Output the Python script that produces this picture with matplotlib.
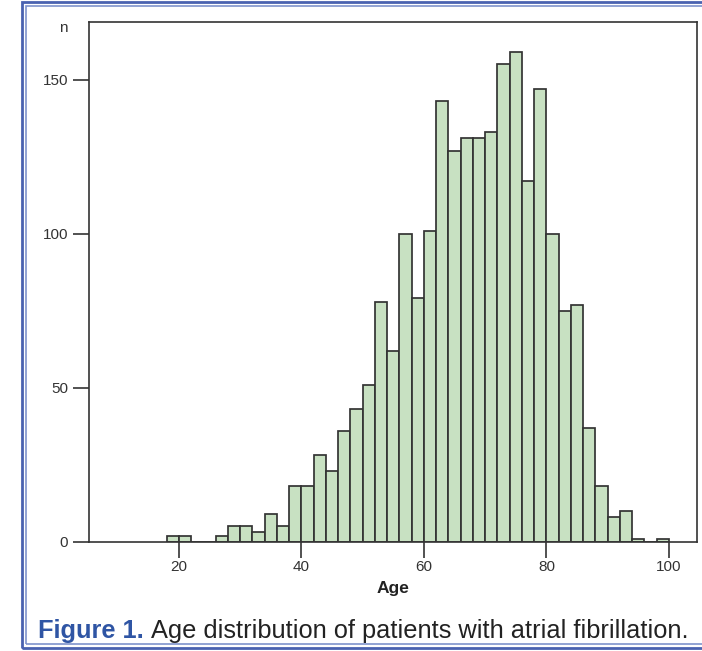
import numpy as np
import matplotlib
matplotlib.use('Agg')
import matplotlib.pyplot as plt
from matplotlib.patches import Rectangle

plt.rcParams['font.family'] = ['Liberation Sans', 'DejaVu Sans']

# bins of 2 years, left edges 18..98
bin_edges = list(range(18, 102, 2))
counts = [2, 2, 0, 0, 2, 5, 5, 3, 9, 5,
          18, 18, 28, 23, 36, 43, 51, 78, 62, 100,
          79, 101, 143, 127, 131, 131, 133, 155, 159, 117,
          147, 100, 75, 77, 37, 18, 8, 10, 1, 0,
          1]
x_ticks = [20, 40, 60, 80, 100]
y_ticks = [0, 50, 100, 150]

W, H = 702, 651
fig = plt.figure(figsize=(W / 100, H / 100), dpi=100)

# blue double frame (right side runs off the picture)
fig.patches.append(Rectangle((21.5 / W, 3 / H), 700 / W, 646 / H, transform=fig.transFigure,
                             fill=False, edgecolor='#4a62b0', linewidth=2.0))
fig.patches.append(Rectangle((25.5 / W, 7 / H), 690 / W, 638 / H, transform=fig.transFigure,
                             fill=False, edgecolor='#7f93cc', linewidth=1.2))

ax = fig.add_axes([89 / W, 1 - 541.7 / H, (697 - 89) / W, (541.7 - 22) / H])
ax.hist(bin_edges[:-1], bins=bin_edges, weights=counts,
        color='#c8e1c2', edgecolor='#333333', linewidth=1.25)

ax.set_xlim(5.3, 104.6)
ax.set_ylim(0, 168.8)
ax.set_xticks(x_ticks)
ax.set_yticks(y_ticks)
for s in ax.spines.values():
    s.set_color('#333333')
    s.set_linewidth(1.2)
ax.tick_params(axis='both', direction='out', length=11.5, width=1.2, color='#333333',
               labelsize=11, labelcolor='#333333')
ax.tick_params(axis='x', pad=2)
ax.tick_params(axis='y', pad=3.5)

ax.set_xlabel('Age', fontsize=12.5, fontweight='bold', color='#222222', labelpad=5)
fig.text(63 / W, 1 - 28 / H, 'n', fontsize=11, color='#333333', ha='center', va='center')

# caption
cap = fig.text(38 / W, 1 - 637.7 / H, 'Figure 1.', fontsize=18.3, fontweight='bold',
               color='#2f55a4', ha='left', va='baseline')
fig.canvas.draw()
bb = cap.get_window_extent()
fig.text((bb.x1 + 7) / W, 1 - 637.7 / H, 'Age distribution of patients with atrial fibrillation.',
         fontsize=18.3, color='#222222', ha='left', va='baseline')

fig.savefig('out.png', dpi=100)
